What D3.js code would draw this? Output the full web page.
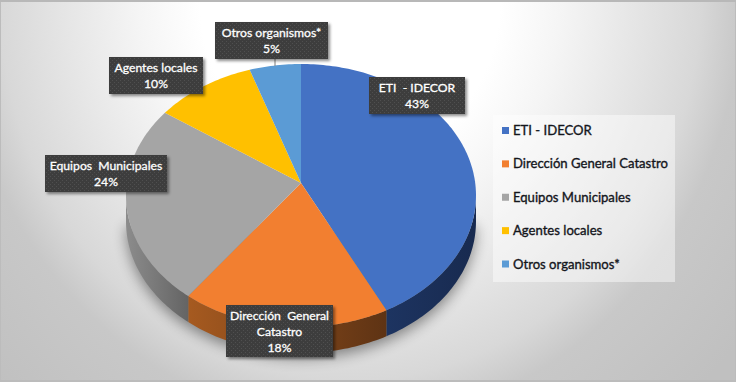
<!DOCTYPE html>
<html>
<head>
<meta charset="utf-8">
<script src="https://cdn.jsdelivr.net/npm/d3@7"></script>
<style>
  html, body { margin: 0; padding: 0; background: #fff; }
  svg { display: block; }
  text { font-family: Lato, "Open Sans", sans-serif; white-space: pre; }
</style>
</head>
<body>
<svg id="chart" width="736" height="382"></svg>
<script>
const categories = ["ETI - IDECOR", "Dirección General Catastro", "Equipos Municipales", "Agentes locales", "Otros organismos*"]
const shares = [42.6, 17.6, 24.4, 10.2, 5.2] // labels show these rounded
const labelLines = [["ETI  - IDECOR"], ["Dirección  General", "Catastro"], ["Equipos  Municipales"], ["Agentes locales"], ["Otros organismos*"]]
const sliceColors = ["#4472c4", "#f27f30", "#a5a5a5", "#ffc000", "#5b9bd5"]
const wallLight = ["#1d3461", "#a65a20", "#8c8c8c", "#a67c00", "#3a6a96"]
const wallDark = ["#182a4f", "#5e3314", "#646464", "#a67c00", "#3a6a96"]

const width = 736
const height = 382

// label box left / top / width / height, placed by hand like in the original
const labelBoxes = [
  [369, 77, 96, 37],
  [226, 305, 107, 52],
  [45, 155, 122, 37],
  [109, 57, 94, 37],
  [215, 22, 113, 37]
]

const svg = d3.select("#chart")
const defs = svg.append("defs")

const bg = defs.append("radialGradient").attr("id", "bg")
  .attr("gradientUnits", "userSpaceOnUse")
  .attr("cx", 0).attr("cy", 0).attr("r", 500)
  .attr("gradientTransform", "translate(350,0) scale(1,1.086)")
bg.append("stop").attr("offset", 0.3).attr("stop-color", "#ffffff")
bg.append("stop").attr("offset", 0.42).attr("stop-color", "#f5f5f5")
bg.append("stop").attr("offset", 0.7).attr("stop-color", "#d8d8d8")
bg.append("stop").attr("offset", 0.78).attr("stop-color", "#c8c8c8")
bg.append("stop").attr("offset", 1).attr("stop-color", "#c0c0c0")

const dots = defs.append("pattern").attr("id", "dots")
  .attr("patternUnits", "userSpaceOnUse").attr("width", 4).attr("height", 4)
dots.append("rect").attr("width", 4).attr("height", 4).attr("fill", "#3c3c3c")
dots.append("rect").attr("x", 1).attr("y", 1).attr("width", 1).attr("height", 1).attr("fill", "#505050")
dots.append("rect").attr("x", 3).attr("y", 3).attr("width", 1).attr("height", 1).attr("fill", "#505050")

const boxShadow = defs.append("filter").attr("id", "boxShadow")
  .attr("x", "-20%").attr("y", "-20%").attr("width", "140%").attr("height", "150%")
boxShadow.append("feDropShadow").attr("dx", 2).attr("dy", 2).attr("stdDeviation", 1.5)
  .attr("flood-color", "#000").attr("flood-opacity", 0.45)

defs.append("filter").attr("id", "pieShadow")
  .attr("x", "-20%").attr("y", "-20%").attr("width", "140%").attr("height", "140%")
  .append("feGaussianBlur").attr("stdDeviation", 7)

svg.append("rect").attr("width", width).attr("height", height).attr("fill", "url(#bg)")
svg.append("rect").attr("x", 0.5).attr("y", 0.5).attr("width", width - 1).attr("height", height - 1)
  .attr("fill", "none").attr("stroke", "#bcbcbc")
svg.append("rect").attr("width", width).attr("height", 2).attr("fill", "#b8b8b8")
svg.append("rect").attr("y", height - 2).attr("width", width).attr("height", 2).attr("fill", "#bcbcbc")

// tilted pie: a unit circle seen in perspective, so the apex sits above the middle of the ellipse
const apexX = 301
const apexY = 183
const spreadX = 174.2
const spreadY = 130.3
const tilt = 0.095
const depth = 26

const project = (angle, drop) => {
  const u = Math.sin(angle)
  const v = -Math.cos(angle)
  const w = 1 - tilt * v
  return [apexX + spreadX * u / w, apexY + spreadY * v / w + drop]
}

const arcPoints = (a0, a1, drop) => {
  const n = Math.max(2, Math.ceil(Math.abs(a1 - a0) / 0.02))
  return d3.range(n + 1).map(i => project(a0 + (a1 - a0) * i / n, drop))
}

const pie = d3.pie().sort(null).value(d => d)
const slices = pie(shares)
const outline = d3.line()
const color = d3.scaleOrdinal().domain(categories).range(sliceColors)
const percent = d3.format(".0f")

// the wall is only visible between the two widest points of the ellipse
const wallStart = Math.acos(-tilt)
const wallEnd = 2 * Math.PI - wallStart

svg.append("path")
  .attr("d", outline(arcPoints(wallStart, wallEnd, depth + 5)) + "Z")
  .attr("fill", "#000").attr("opacity", 0.42)
  .attr("filter", "url(#pieShadow)")

slices.forEach((d, i) => {
  const a0 = Math.max(d.startAngle, wallStart)
  const a1 = Math.min(d.endAngle, wallEnd)
  if (a1 <= a0) return
  const top = arcPoints(a0, a1, 0)
  const bottom = arcPoints(a1, a0, depth)
  const xs = top.map(p => p[0])
  const grad = defs.append("linearGradient").attr("id", `wall${i}`)
    .attr("gradientUnits", "userSpaceOnUse")
    .attr("x1", d3.min(xs)).attr("x2", d3.max(xs)).attr("y1", 0).attr("y2", 0)
  grad.append("stop").attr("offset", 0).attr("stop-color", wallLight[i])
  grad.append("stop").attr("offset", 1).attr("stop-color", wallDark[i])
  svg.append("path")
    .attr("d", outline(top.concat(bottom)) + "Z")
    .attr("fill", `url(#wall${i})`)
})

svg.selectAll("path.slice")
  .data(slices)
  .join("path")
  .attr("class", "slice")
  .attr("d", d => outline([[apexX, apexY]].concat(arcPoints(d.startAngle, d.endAngle, 0))) + "Z")
  .attr("fill", (d, i) => color(categories[i]))

// leader line of the smallest slice
svg.append("line")
  .attr("x1", 275).attr("x2", 275).attr("y1", 59).attr("y2", 66)
  .attr("stroke", "#7f7f7f")

const labels = svg.selectAll("g.label")
  .data(slices)
  .join("g")
  .attr("class", "label")
  .attr("transform", (d, i) => `translate(${labelBoxes[i][0]},${labelBoxes[i][1]})`)

labels.append("rect")
  .attr("width", (d, i) => labelBoxes[i][2])
  .attr("height", (d, i) => labelBoxes[i][3])
  .attr("fill", "url(#dots)")
  .attr("filter", "url(#boxShadow)")

labels.each(function(d, i) {
  const lines = labelLines[i].concat([`${percent(shares[i])}%`])
  d3.select(this).selectAll("text")
    .data(lines)
    .join("text")
    .attr("x", labelBoxes[i][2] / 2)
    .attr("y", (t, j) => 15 + j * 16)
    .attr("text-anchor", "middle")
    .attr("font-size", 12.2)
    .attr("fill", "#ffffff")
    .attr("stroke", "#ffffff")
    .attr("stroke-width", 0.3)
    .text(t => t)
})

// legend
svg.append("rect")
  .attr("x", 493).attr("y", 115).attr("width", 182).attr("height", 167)
  .attr("fill", "#fff").attr("opacity", 0.45)

const legendY = d3.scalePoint().domain(categories).range([130.5, 264])

const legend = svg.selectAll("g.legend")
  .data(categories)
  .join("g")
  .attr("class", "legend")
  .attr("transform", d => `translate(502,${legendY(d)})`)

legend.append("rect")
  .attr("y", -3.5).attr("width", 7).attr("height", 7)
  .attr("fill", d => color(d))

legend.append("text")
  .attr("x", 11).attr("y", 4.5)
  .attr("font-size", 13.1)
  .attr("fill", "#14161c")
  .attr("stroke", "#14161c")
  .attr("stroke-width", 0.35)
  .text(d => d)
</script>
</body>
</html>
